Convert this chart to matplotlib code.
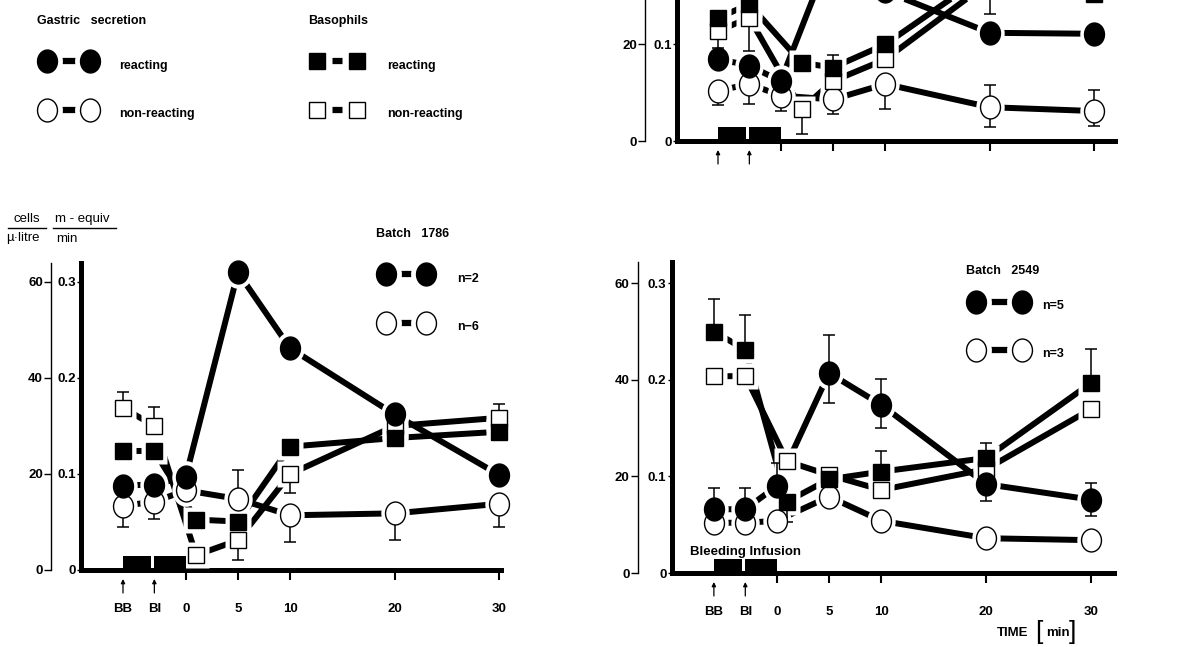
import matplotlib
matplotlib.use('Agg')
import matplotlib.pyplot as plt
from matplotlib.lines import Line2D
from matplotlib.path import Path
from matplotlib.transforms import Affine2D
from matplotlib.legend_handler import HandlerLine2D, HandlerTuple

plt.rcParams['font.family'] = ['Liberation Sans', 'DejaVu Sans']

W, H = 1198, 647
fig = plt.figure(figsize=(W / 100, H / 100), dpi=100)

# ---------------- data ----------------
time_labels = ['BB', 'BI', '0', '5', '10', '20', '30']
t_circ = [-6, -3, 0, 5, 10, 20, 30]
t_sq = [-6, -3, 1, 5, 10, 20, 30]
t_sq_top = [-6, -3, 2, 5, 10, 20, 30]
bleed_start = [-6, -3]
bleed_len = [2.7, 3.0]
bleed_height = 3.0          # cells / µl scale
meq_ticks = [0, 0.1, 0.2, 0.3]
meq_labels = ['0', '0.1', '0.2', '0.3']
cell_ticks = [0, 20, 40, 60]
cell_labels = ['0', '20', '40', '60']

# top-right panel (only lower part visible)
top_gas_react = [0.085, 0.078, 0.062, 0.200, 0.155, 0.112, 0.111]
top_gas_non = [0.052, 0.059, 0.047, 0.043, 0.059, 0.035, 0.031]
top_gas_non_up = [0, 0, 0, 0, 0, 0.0225, 0.0215]
top_gas_non_dn = [0.0145, 0.0205, 0.0155, 0.0155, 0.0255, 0.020, 0.0155]
top_baso_react = [25.5, 28.3, 16.2, 15.2, 20.0, 35.0, 30.5]
top_baso_react_up = [0, 0, 0, 2.7, 0, 0, 0]
top_baso_react_dn = [0, 0, 0, 0, 0, 8.8, 0]
top_baso_non = [22.8, 25.5, 6.6, 12.4, 16.9, 33.0, 34.0]
top_baso_non_up = [0, 0, 0, 0, 0, 0, 0]
top_baso_non_dn = [3.5, 6.9, 5.1, 0, 0, 0, 0]

# Batch 1786
b1786_gas_react = [0.088, 0.089, 0.097, 0.310, 0.231, 0.162, 0.099]
b1786_gas_non = [0.067, 0.071, 0.083, 0.074, 0.057, 0.059, 0.069]
b1786_gas_non_up = [0, 0, 0, 0.030, 0, 0, 0]
b1786_gas_non_dn = [0.022, 0.018, 0, 0, 0.028, 0.028, 0.024]
b1786_baso_react = [24.8, 24.8, 10.5, 10.1, 25.7, 27.5, 28.8]
b1786_baso_non = [33.8, 30.0, 3.1, 6.2, 20.0, 30.0, 31.7]
b1786_baso_non_up = [3.3, 3.9, 0, 0, 0, 0, 2.9]
b1786_baso_non_dn = [0, 0, 0, 4.1, 4.0, 0, 0]

# Batch 2549
b2549_gas_react = [0.066, 0.066, 0.090, 0.207, 0.174, 0.092, 0.076]
b2549_gas_react_up = [0.0225, 0.022, 0.024, 0.039, 0.027, 0, 0.017]
b2549_gas_react_dn = [0, 0, 0, 0.031, 0.0235, 0.0175, 0.0175]
b2549_gas_non = [0.052, 0.052, 0.054, 0.079, 0.054, 0.036, 0.034]
b2549_baso_react = [50.0, 46.2, 14.8, 19.4, 21.0, 23.8, 39.3]
b2549_baso_react_up = [6.7, 7.2, 0, 0, 4.2, 3.1, 7.0]
b2549_baso_react_dn = [0, 0, 4.3, 0, 0, 0, 0]
b2549_baso_non = [40.7, 40.8, 23.1, 20.3, 17.2, 21.5, 33.9]

CELLS_PER_MEQ = 200.0
FS = 9.5
MS_C = 16.5
MS_S = 12
OVAL = Path.unit_circle().transformed(Affine2D().scale(1.0, 1.15))


def draw_series(ax, trans, x, y, marker, filled, ms, up=None, dn=None):
    ax.plot(x, y, color='k', lw=4.3, solid_capstyle='butt', zorder=2,
            transform=trans, clip_on=False)
    ax.plot(x, y, ls='none', marker=marker, ms=ms + 7, mfc='white', mec='none',
            zorder=3, transform=trans, clip_on=False)
    if up is not None:
        ax.errorbar(x, y, yerr=[dn, up], fmt='none', ecolor='k', elinewidth=1.1,
                    capsize=4.5, capthick=1.1, zorder=4, transform=trans,
                    clip_on=False)
    ax.plot(x, y, ls='none', marker=marker, ms=ms,
            mfc='k' if filled else 'white', mec='k', mew=1.0, zorder=5,
            transform=trans, clip_on=False)


def make_panel(t0_px, ppm, zero_y, ppc, xlim, ytop, outward_px,
               show_xlabels=True, nticks=4):
    x0 = t0_px + xlim[0] * ppm
    width = (xlim[1] - xlim[0]) * ppm
    height = ytop * ppc
    rect = [x0 / W, (H - zero_y) / H, width / W, height / H]
    ax_m = fig.add_axes(rect)
    ax_c = fig.add_axes(rect, sharex=ax_m)
    ax_m.set_xlim(*xlim)
    ax_m.set_ylim(0, ytop / CELLS_PER_MEQ)
    ax_c.set_ylim(0, ytop)
    ax_c.patch.set_visible(False)
    ax_m.patch.set_visible(False)
    for s in ['top', 'right']:
        ax_m.spines[s].set_visible(False)
    ax_m.spines['left'].set_linewidth(3.6)
    ax_m.spines['bottom'].set_linewidth(3.6)
    for s in ['top', 'right', 'bottom']:
        ax_c.spines[s].set_visible(False)
    ax_c.spines['left'].set_position(('outward', outward_px * 0.72))
    ax_c.spines['left'].set_linewidth(1.0)
    ax_c.tick_params(axis='x', bottom=False, labelbottom=False)
    ax_c.set_yticks(cell_ticks[:nticks], cell_labels[:nticks])
    ax_c.tick_params(axis='y', length=5, width=1.0, pad=1, labelsize=FS)
    ax_m.set_yticks(meq_ticks[:nticks], meq_labels[:nticks])
    ax_m.tick_params(axis='y', length=3, width=1.0, pad=1, labelsize=FS)
    ax_m.set_xticks(t_circ, time_labels if show_xlabels else [''] * len(t_circ))
    ax_m.tick_params(axis='x', length=7, width=1.5, pad=17, labelsize=FS)
    for lab in ax_m.get_xticklabels() + ax_m.get_yticklabels() + ax_c.get_yticklabels():
        lab.set_fontweight('bold')
    xt = ax_m.xaxis.get_major_ticks()
    for i in (0, 1):
        xt[i].tick1line.set_visible(False)
    # arrows at BB / BI
    for xv in t_circ[:2]:
        ax_m.annotate('', xy=(xv, -9.0 / height), xytext=(xv, -23.0 / height),
                      xycoords=ax_m.get_xaxis_transform(),
                      textcoords=ax_m.get_xaxis_transform(),
                      arrowprops=dict(arrowstyle='-|>', lw=0.9, color='k',
                                      mutation_scale=6, shrinkA=0, shrinkB=0),
                      annotation_clip=False)
    # bleeding / infusion bars
    ax_c.bar(bleed_start, [bleed_height] * len(bleed_start), width=bleed_len,
             align='edge', color='k', zorder=6)
    return ax_m, ax_c


# ---------------- top-right (cut) panel ----------------
axm, axc = make_panel(780.7, 10.45, 141, 4.83, (-9.9, 32.0), 64.0, 32,
                      show_xlabels=False, nticks=2)
tm = axm.transData
draw_series(axc, tm, t_circ, top_gas_non, OVAL, False, MS_C, top_gas_non_up, top_gas_non_dn)
draw_series(axc, tm, t_circ, top_gas_react, OVAL, True, MS_C)
draw_series(axc, axc.transData, t_sq_top, top_baso_non, 's', False, MS_S, top_baso_non_up, top_baso_non_dn)
draw_series(axc, axc.transData, t_sq_top, top_baso_react, 's', True, MS_S, top_baso_react_up, top_baso_react_dn)

# ---------------- Batch 1786 ----------------
axm, axc = make_panel(185.7, 10.45, 570, 4.8, (-10.0, 30.2), 64.0, 30)
tm = axm.transData
draw_series(axc, tm, t_circ, b1786_gas_non, OVAL, False, MS_C, b1786_gas_non_up, b1786_gas_non_dn)
draw_series(axc, axc.transData, t_sq, b1786_baso_non, 's', False, MS_S, b1786_baso_non_up, b1786_baso_non_dn)
draw_series(axc, axc.transData, t_sq, b1786_baso_react, 's', True, MS_S)
draw_series(axc, tm, t_circ, b1786_gas_react, OVAL, True, MS_C)

# ---------------- Batch 2549 ----------------
axm2, axc2 = make_panel(776.7, 10.47, 573, 4.83, (-10.0, 32.2), 64.4, 34)
tm2 = axm2.transData
draw_series(axc2, tm2, t_circ, b2549_gas_non, OVAL, False, MS_C)
draw_series(axc2, axc2.transData, t_sq, b2549_baso_non, 's', False, MS_S)
draw_series(axc2, axc2.transData, t_sq, b2549_baso_react, 's', True, MS_S, b2549_baso_react_up, b2549_baso_react_dn)
draw_series(axc2, tm2, t_circ, b2549_gas_react, OVAL, True, MS_C, b2549_gas_react_up, b2549_gas_react_dn)
axc2.text(-8.3, 4.35, 'Bleeding Infusion', fontsize=FS, fontweight='bold',
          ha='left', va='center')


# ---------------- legends ----------------
def handle(marker, filled, ms):
    line = Line2D([], [], color='k', lw=4.5)
    halo = Line2D([], [], ls='none', marker=marker, ms=ms + 9, mfc='white', mec='none')
    mark = Line2D([], [], ls='none', marker=marker, ms=ms,
                  mfc='k' if filled else 'white', mec='k', mew=1.0)
    return (line, halo, mark)


def fig_legend(handles, labels, title, x_px, y_px, hl, tp, mpad,
               hh=2.22, ls=2.18):
    hmap = {tuple: HandlerTuple(ndivide=1, pad=0),
            Line2D: HandlerLine2D(marker_pad=mpad, numpoints=2)}
    leg = fig.legend(handles, labels, title=title, loc='upper left',
                     bbox_to_anchor=(x_px / W, 1 - y_px / H),
                     bbox_transform=fig.transFigure, frameon=False,
                     handler_map=hmap,
                     handlelength=hl, handleheight=hh, labelspacing=ls,
                     handletextpad=tp, borderpad=0, borderaxespad=0,
                     alignment='left', prop={'size': FS - 0.5, 'weight': 'bold'},
                     title_fontproperties={'size': FS - 0.5, 'weight': 'bold'})
    return leg


fig_legend([handle(OVAL, True, MS_C), handle(OVAL, False, MS_C)],
           ['reacting', 'non-reacting'], 'Gastric   secretion', 37, 15,
           hl=5.0, tp=1.6, mpad=0.8)
fig_legend([handle('s', True, MS_S), handle('s', False, MS_S)],
           ['reacting', 'non-reacting'], 'Basophils', 308, 15,
           hl=4.64, tp=1.68, mpad=0.7)
fig_legend([handle(OVAL, True, MS_C), handle(OVAL, False, MS_C)],
           ['n=2', 'n−6'], 'Batch   1786', 376, 228,
           hl=4.8, tp=1.7, mpad=0.8)
fig.text(966 / W, 1 - 271 / H, 'Batch   2549', fontsize=FS - 0.5,
         fontweight='bold', ha='left', va='center')
fig_legend([handle(OVAL, True, MS_C), handle(OVAL, False, MS_C)],
           ['n=5', 'n=3'], None, 966, 294,
           hl=5.3, tp=0.8, mpad=0.8, hh=2.46, ls=2.0)

# ---------------- unit labels ----------------
fig.text(13 / W, 1 - 219 / H, 'cells', fontsize=FS, va='center', ha='left')
fig.text(6 / W, 1 - 238 / H, 'µ·litre', fontsize=FS, va='center', ha='left')
fig.text(55 / W, 1 - 219 / H, 'm - equiv', fontsize=FS, va='center', ha='left')
fig.text(56 / W, 1 - 239 / H, 'min', fontsize=FS, va='center', ha='left')
fig.add_artist(Line2D([8 / W, 46 / W], [1 - 228 / H, 1 - 228 / H], color='k', lw=1.0))
fig.add_artist(Line2D([53 / W, 116 / W], [1 - 228 / H, 1 - 228 / H], color='k', lw=1.0))

fig.text(997 / W, 1 - 633 / H, 'TIME', fontsize=FS, fontweight='bold', va='center', ha='left')
fig.text(1035 / W, 1 - 632 / H, '[', fontsize=19, va='center', ha='left')
fig.text(1046 / W, 1 - 633 / H, 'min', fontsize=FS, fontweight='bold', va='center', ha='left')
fig.text(1069 / W, 1 - 632 / H, ']', fontsize=19, va='center', ha='left')

fig.savefig('out.png', dpi=100)
